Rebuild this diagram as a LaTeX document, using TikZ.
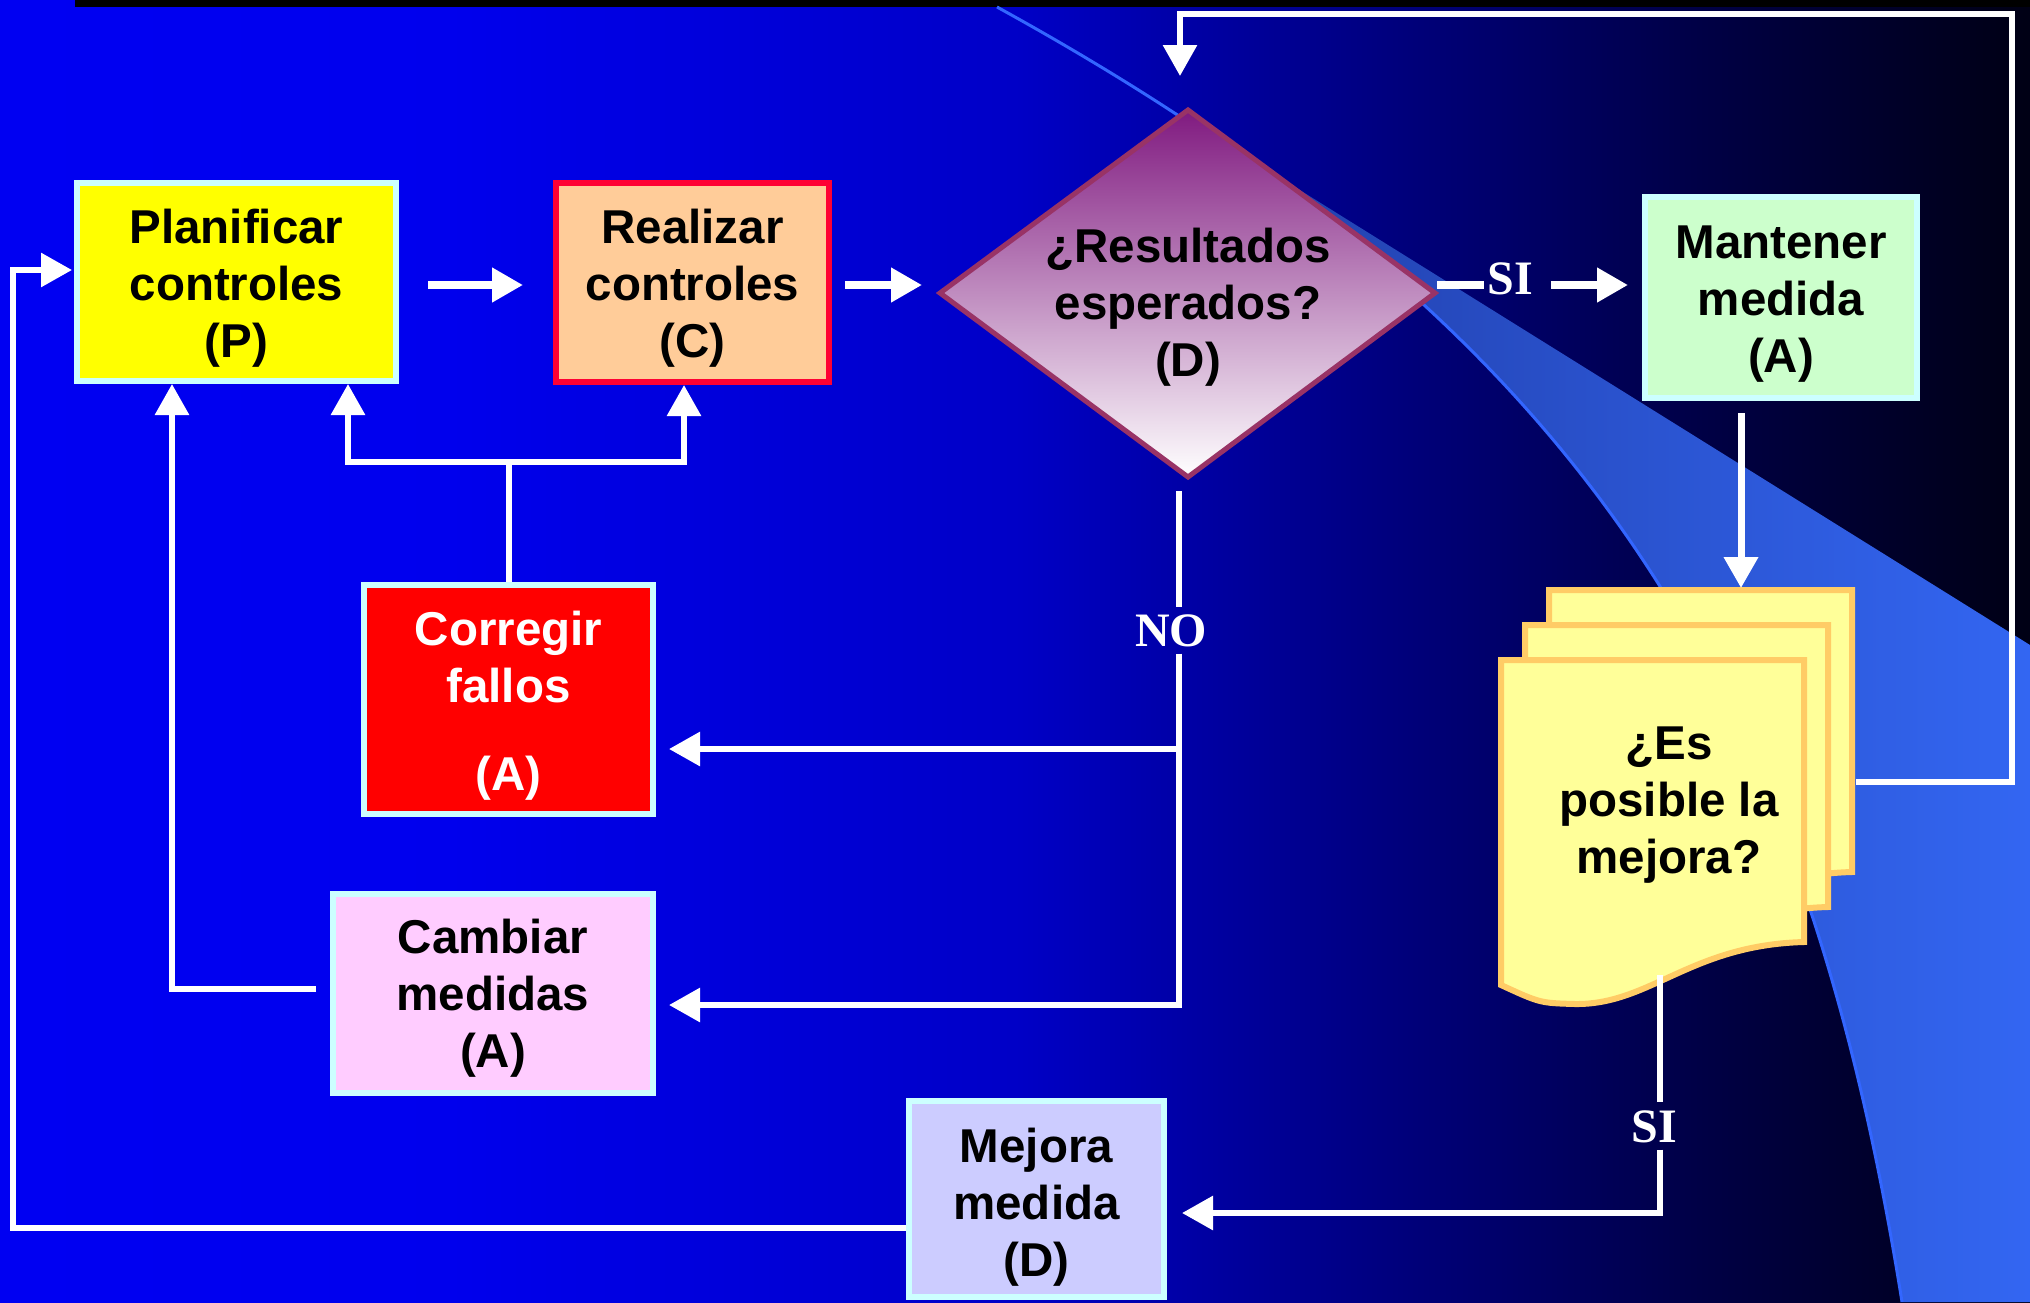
\documentclass[tikz,border=0pt]{standalone}
\usepackage{fontspec}
\setmainfont{Liberation Sans}
\newfontfamily\serifb{Liberation Serif}
\usetikzlibrary{arrows.meta,calc}
\definecolor{bcyan}{HTML}{CCFFFF}
\definecolor{pyellow}{HTML}{FFFF00}
\definecolor{rred}{HTML}{FF0033}
\definecolor{rfill}{HTML}{FFCC99}
\definecolor{mgreen}{HTML}{CCFFCC}
\definecolor{cpink}{HTML}{FFCCFF}
\definecolor{mlav}{HTML}{CCCCFF}
\definecolor{dborder}{HTML}{993366}
\definecolor{dtop}{HTML}{801A80}
\definecolor{docfill}{HTML}{FFFF99}
\definecolor{docline}{HTML}{FFCC66}
\definecolor{curvec}{HTML}{3366FF}
\definecolor{bandL}{HTML}{1C3496}
\definecolor{bandR}{HTML}{3366F2}
\pgfdeclarehorizontalshading{bgshade}{100bp}{rgb(0bp)=(0,0,0.95); rgb(25bp)=(0,0,0.95); rgb(36bp)=(0,0,0.93); rgb(50bp)=(0,0,0.78); rgb(60bp)=(0,0,0.47); rgb(67bp)=(0,0,0.27); rgb(75bp)=(0,0,0.08); rgb(100bp)=(0,0,0.08)}
\begin{document}
\begin{tikzpicture}[x=1pt,y=-1pt,
  box/.style={draw=bcyan, line width=6pt, inner sep=0pt},
  txt/.style={font=\fontsize{47.5}{57}\selectfont\bfseries, align=center, inner sep=0pt},
  lab/.style={font=\fontsize{48}{56}\selectfont\serifb\bfseries, text=white, inner sep=0pt, anchor=base},
  wl/.style={white, line width=6pt, line join=miter},
  wa/.style={wl, -{Triangle[length=31pt,width=33pt]}},
  sheet/.style={fill=docfill, draw=docline, line width=6pt, line join=miter}]
\useasboundingbox (0,0) rectangle (2030,1302);
% background
\shade[shading=bgshade] (0,0) rectangle (2030,1302);
\fill[black] (75,0) rectangle (2030,7);
\begin{scope}
  \clip (1120,78) -- (2030,645) -- (2030,1302) -- (1120,1302) -- cycle;
  \shade[left color=bandL, right color=bandR] (997,7) .. controls (1597,337) and (1806,702) .. (1902,1302) -- (2030,1302) -- (2030,0) -- cycle;
\end{scope}
\draw[curvec, line width=3pt] (997,7) .. controls (1597,337) and (1806,702) .. (1902,1302);
% boxes
\node[box, fill=pyellow, minimum width=319pt, minimum height=198pt] (plan) at (236.5,282) {};
\node[box, draw=rred, fill=rfill, minimum width=273pt, minimum height=199pt] (real) at (692.5,282.5) {};
\node[box, fill=mgreen, minimum width=272pt, minimum height=201pt] (mant) at (1781,297.5) {};
\node[box, fill=red, minimum width=289pt, minimum height=229pt] (corr) at (508.5,699.5) {};
\node[box, fill=cpink, minimum width=320pt, minimum height=199pt] (camb) at (493,993.5) {};
\node[box, fill=mlav, minimum width=255pt, minimum height=196pt] (mej) at (1036.5,1199) {};
% diamond
\coordinate (dT) at (1188,110);
\coordinate (dR) at (1435,293);
\coordinate (dB) at (1188,477);
\coordinate (dL) at (940,293);
\shadedraw[top color=dtop, bottom color=white, draw=dborder, line width=5pt, line join=miter] (dT) -- (dR) -- (dB) -- (dL) -- cycle;
% document stack
\foreach \dx/\dy in {48/-70, 24/-35, 0/0}{
  \begin{scope}[shift={(\dx,\dy)}]
    \path[sheet] (1501,660) -- (1804,660) -- (1804,942) .. controls (1690,945) and (1650,1005) .. (1575,1004) .. controls (1540,1003) .. (1501,985) -- cycle;
  \end{scope}
}
% texts
\node[txt] (plant) at (236.5,288) {Planificar\\controles\\(P)};
\node[txt] (realt) at (692.5,288.5) {Realizar\\controles\\(C)};
\node[txt] (diamt) at (1188,307) {¿Resultados\\esperados?\\(D)};
\node[txt] (mantt) at (1781,304.5) {Mantener\\medida\\(A)};
\node[txt, text=white] (corrt) at (508.5,705.5) {Corregir\\fallos\\[31pt](A)};
\node[txt] (cambt) at (493,998.5) {Cambiar\\medidas\\(A)};
\node[txt] (mejt) at (1036.5,1207) {Mejora\\medida\\(D)};
\node[txt] (doct) at (1669,805) {¿Es\\posible la\\mejora?};
\node[lab] (si1) at (1510,294) {SI};
\node[lab] (nolab) at (1171,646) {NO};
\node[lab] (si2) at (1654,1142) {SI};
% helper coordinates
\coordinate (rowy) at (0,285);
\coordinate (backtop) at (1741,588);
\coordinate (backR) at (1856,782);
\coordinate (loopA) at (2012,782);
\coordinate (loopB) at (2012,13.5);
\coordinate (loopC) at (1180,13.5);
\coordinate (dIn) at (1180,76);
\coordinate (noX) at (1179,0);
\coordinate (br1) at (1179,749);
\coordinate (br2) at (1179,1005);
\coordinate (tL) at (348,462);
\coordinate (tR) at (684,462);
\coordinate (cL) at (172,989);
\coordinate (mL) at (13,1228);
\coordinate (mU) at (13,270);
\coordinate (dbX) at (1660,975);
\coordinate (mY) at (0,1213);
% connectors, top row
\draw[wa, line width=7.5pt] ([xshift=29pt]plan.east |- rowy) -- ([xshift=-30pt]real.west |- rowy);
\draw[wa, line width=7.5pt] ([xshift=13pt]real.east |- rowy) -- ([xshift=-18pt]dL |- rowy);
\draw[wl, line width=7.5pt] ([xshift=2pt]dR |- rowy) -- ([xshift=-3pt]si1.west |- rowy);
\draw[wa, line width=7.5pt] ([xshift=18pt]si1.east |- rowy) -- ([xshift=-14pt]mant.west |- rowy);
% Mantener down to document
\draw[wa, line width=7pt] ([yshift=-12pt]mant.south -| backtop) -- (backtop);
% loop from document back to diamond
\draw[wa] (backR) -- (loopA) -- (loopB) -- (loopC) -- (dIn);
% NO branch
\draw[wl] ([yshift=-14pt]dB -| noX) -- ([yshift=7pt]nolab.north -| noX);
\draw[wa] ([yshift=-7pt]nolab.south -| noX) -- (br2) -- ([xshift=13pt]camb.east |- br2);
\draw[wa] (br1) -- ([xshift=13pt]corr.east |- br1);
% Corregir feedback
\draw[wl] (corr.north) -- (corr.north |- tL);
\draw[wa] (tR) -- (tL) -- (tL |- plan.south);
\draw[wa] (tL) -- (tR) -- (tR |- real.south);
% Cambiar feedback
\draw[wa] ([xshift=-14pt]camb.west |- cL) -- (cL) -- (cL |- plan.south);
% Mejora feedback
\draw[wa] (mej.west |- mL) -- (mL) -- (mU) -- ([xshift=-2pt]plan.west |- mU);
% document to Mejora
\draw[wl] (dbX) -- ([yshift=8pt]si2.north -| dbX);
\draw[wa] ([yshift=-7pt]si2.south -| dbX) -- (dbX |- mY) -- ([xshift=15pt]mej.east |- mY);
\end{tikzpicture}
\end{document}
